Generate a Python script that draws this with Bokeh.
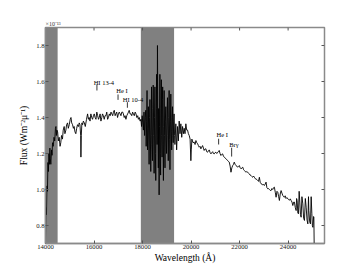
from bokeh.plotting import figure
from bokeh.models import Range1d, FixedTicker, BoxAnnotation, PrintfTickFormatter
from bokeh.core.properties import value
from bokeh.embed import file_html
from bokeh.resources import INLINE

# spectrum (wavelength in Angstrom, flux in 1e-13 W m^-2 micron^-1)
wavelength = [
    14000, 14020, 14040, 14060, 14080, 14100, 14120, 14140, 14160, 14180, 14200, 14220, 14250, 14270, 14290,
    14320, 14350, 14380, 14410, 14430, 14450, 14470, 14500, 14530, 14565, 14600, 14630, 14660, 14700, 14730,
    14770, 14800, 14840, 14870, 14910, 14940, 14980, 15020, 15050, 15080, 15115, 15150, 15180, 15215, 15250,
    15285, 15320, 15360, 15390, 15420, 15450, 15460, 15475, 15500, 15530, 15560, 15600, 15640, 15690, 15735,
    15770, 15800, 15835, 15870, 15905, 15940, 15975, 16010, 16045, 16080, 16115, 16150, 16185, 16215, 16250,
    16285, 16320, 16350, 16385, 16420, 16455, 16490, 16525, 16560, 16595, 16630, 16665, 16700, 16735, 16770,
    16800, 16835, 16870, 16900, 16935, 16970, 17005, 17040, 17075, 17110, 17145, 17180, 17210, 17245, 17280,
    17315, 17350, 17385, 17420, 17450, 17485, 17520, 17555, 17590, 17625, 17660, 17695, 17730, 17765, 17800,
    17830, 17865, 17900,
    17935, 17960, 17985, 18010, 18035, 18060, 18085, 18110, 18132, 18150, 18170, 18185, 18205, 18225, 18240,
    18270, 18290, 18305, 18339, 18355, 18370, 18390, 18408, 18425, 18440, 18460, 18477, 18495, 18510, 18530,
    18545, 18565, 18580, 18600, 18615, 18635, 18650, 18665, 18683, 18700, 18715, 18730, 18745, 18760, 18775,
    18790, 18805, 18818, 18830, 18845, 18860, 18875, 18890, 18910, 18925, 18940, 18959, 18975, 18990, 19010,
    19028, 19045, 19060, 19080, 19096, 19115, 19130, 19150, 19165, 19185, 19200, 19218, 19234, 19250, 19265,
    19285, 19300, 19320, 19335,
    19372, 19405, 19442, 19475, 19510, 19545, 19579, 19615, 19649, 19685, 19717, 19750, 19785,
    19820, 19855, 19890, 19924, 19960, 19992, 20010, 20033, 20080, 20130, 20165, 20200, 20235, 20270, 20300,
    20335, 20370, 20405, 20440, 20475, 20510, 20540, 20575, 20610, 20645, 20680, 20715, 20750, 20785, 20820,
    20855, 20890, 20920, 20955, 20990, 21025, 21060, 21095, 21130, 21160, 21195, 21230, 21265, 21300, 21335,
    21370, 21405, 21440, 21475, 21510, 21545, 21575, 21610, 21645, 21680, 21715, 21750, 21780, 21815, 21850,
    21885, 21920, 21955, 21990, 22025, 22060, 22100, 22130, 22165, 22196, 22230, 22265, 22300, 22335, 22370,
    22400, 22435, 22471, 22505, 22540, 22575, 22609, 22645, 22680, 22715, 22747, 22780, 22816, 22850, 22884,
    22920, 22955, 22990, 23021, 23055, 23091, 23125, 23160, 23195, 23230, 23265, 23298, 23330, 23365, 23400,
    23434, 23470, 23505, 23540, 23574, 23610, 23641, 23675, 23711, 23745, 23781, 23815, 23847, 23880, 23915,
    23950, 23988, 24020, 24055, 24090, 24124, 24160, 24194, 24230, 24260, 24295, 24331, 24350, 24372, 24400,
    24426, 24455, 24483, 24510, 24537, 24570, 24607, 24640, 24674, 24710, 24744, 24780, 24814, 24840, 24855,
    24890, 24921, 24950, 24979, 25000, 25021, 25050, 25062, 25074,
]
flux = [
    0.71, 0.90, 0.86, 1.02, 0.99, 1.15, 1.10, 1.20, 1.14, 1.23, 1.17, 1.14, 1.22, 1.19, 1.26,
    1.24, 1.29, 1.27, 1.34, 1.35, 1.30, 1.33, 1.32, 1.27, 1.29, 1.24, 1.26, 1.30, 1.28, 1.33,
    1.35, 1.31, 1.33, 1.36, 1.37, 1.34, 1.36, 1.39, 1.40, 1.37, 1.36, 1.34, 1.35, 1.32, 1.31,
    1.34, 1.36, 1.35, 1.37, 1.36, 1.30, 1.18, 1.30, 1.37, 1.36, 1.38, 1.37, 1.35, 1.39, 1.42,
    1.39, 1.40, 1.38, 1.42, 1.40, 1.39, 1.41, 1.42, 1.40, 1.39, 1.43, 1.41, 1.39, 1.40, 1.42,
    1.38, 1.40, 1.42, 1.41, 1.39, 1.41, 1.41, 1.43, 1.39, 1.40, 1.42, 1.41, 1.43, 1.42, 1.41,
    1.43, 1.44, 1.41, 1.42, 1.43, 1.40, 1.42, 1.43, 1.42, 1.41, 1.43, 1.43, 1.42, 1.40, 1.41,
    1.39, 1.41, 1.42, 1.43, 1.44, 1.42, 1.42, 1.41, 1.43, 1.42, 1.41, 1.43, 1.42, 1.40, 1.41,
    1.39, 1.40, 1.38,
    1.39, 1.35, 1.41, 1.37, 1.33, 1.43, 1.30, 1.40, 1.44, 1.24, 1.38, 1.55, 1.22, 1.34, 1.46,
    1.14, 1.40, 1.50, 1.10, 1.30, 1.57, 1.25, 1.16, 1.45, 1.58, 1.30, 1.09, 1.40, 1.57, 1.20,
    1.05, 1.45, 1.64, 1.25, 1.80, 1.30, 1.12, 1.45, 0.97, 1.35, 1.64, 1.20, 1.08, 1.45, 1.61,
    1.30, 1.18, 1.50, 1.57, 1.25, 1.05, 1.35, 1.55, 1.30, 1.12, 1.38, 1.46, 1.28, 1.20, 1.42,
    1.51, 1.30, 1.16, 1.40, 1.55, 1.28, 1.11, 1.38, 1.53, 1.32, 1.22, 1.40, 1.46, 1.30, 1.26,
    1.38, 1.42, 1.30, 1.25,
    1.365, 1.22, 1.35, 1.27, 1.38, 1.31, 1.365, 1.29, 1.35, 1.31, 1.34, 1.31, 1.365,
    1.33, 1.33, 1.31, 1.30, 1.28, 1.16, 1.22, 1.28, 1.26, 1.263, 1.25, 1.272, 1.26, 1.254, 1.245,
    1.235, 1.24, 1.226, 1.235, 1.244, 1.23, 1.217, 1.225, 1.226, 1.21, 1.207, 1.215, 1.22, 1.205, 1.198,
    1.205, 1.21, 1.20, 1.198, 1.205, 1.207, 1.20, 1.207, 1.21, 1.217, 1.20, 1.189, 1.195, 1.198, 1.185,
    1.18, 1.175, 1.17, 1.165, 1.161, 1.155, 1.152, 1.13, 1.096, 1.12, 1.133, 1.14, 1.152, 1.14, 1.133,
    1.13, 1.124, 1.128, 1.133, 1.12, 1.115, 1.12, 1.124, 1.11, 1.106, 1.10, 1.096, 1.10, 1.096, 1.09,
    1.087, 1.08, 1.078, 1.072, 1.068, 1.075, 1.068, 1.06, 1.058, 1.055, 1.05, 1.045, 1.068, 1.04, 1.032,
    1.03, 1.025, 1.028, 1.022, 1.03, 1.041, 1.01, 1.004, 1.005, 1.0, 0.995, 0.994, 1.005, 1.0, 1.01,
    1.013, 0.985, 0.957, 0.99, 0.985, 0.96, 0.939, 0.975, 0.994, 0.98, 0.967, 0.96, 0.957, 0.965, 0.95,
    0.955, 0.948, 0.945, 0.94, 0.948, 0.939, 0.93, 0.911, 0.93, 0.93, 0.90, 0.883, 0.95, 0.939, 0.87,
    0.865, 0.99, 0.93, 0.86, 0.846, 0.96, 0.92, 0.84, 0.828, 0.95, 0.902, 0.83, 0.809, 0.96, 0.883,
    0.82, 0.809, 0.96, 0.865, 0.80, 0.79, 0.85, 0.846, 0.70,
]

# masked (telluric) wavelength bands
band_start = [14000, 17930]
band_end = [14500, 19300]

# line identifications
line_names = ["HI 13-4", "He I", "HI 10-4", "He I", "Brγ"]
line_wave = [16120, 16990, 17375, 21136, 21673]
line_low = [1.550, 1.498, 1.454, 1.250, 1.183]
line_high = [1.583, 1.528, 1.485, 1.282, 1.232]
label_wave = [15985, 16920, 17185, 21050, 21575]
label_flux = [1.595, 1.550, 1.498, 1.304, 1.250]

x_ticks = [14000, 16000, 18000, 20000, 22000, 24000]
y_ticks = [0.8, 1.0, 1.2, 1.4, 1.6, 1.8]

X0, X1, Y0, Y1 = 14000, 25500, 0.7, 1.9
FONT = "Liberation Serif"
FRAME = "#8a8a8a"
TICK = "#555555"
FRAME_W, FRAME_H = 279, 216   # frame size in px (for mirrored tick length)
TL = 3                         # tick length px

p = figure(width=360, height=270, output_backend="svg", toolbar_location=None,
           x_range=Range1d(X0, X1), y_range=Range1d(Y0, Y1),
           min_border_left=45, min_border_right=36, min_border_top=27, min_border_bottom=27)
p.grid.visible = False
p.outline_line_color = FRAME
p.outline_line_width = 1.5
p.background_fill_color = "white"
p.border_fill_color = "white"

p.title.text = "×10⁻¹³"
p.title.text_font = FONT
p.title.text_font_size = "6px"
p.title.text_font_style = "normal"
p.title.text_color = "#333333"
p.title.align = "left"
p.title.standoff = 1
p.title.offset = 0

for s, e in zip(band_start, band_end):
    p.add_layout(BoxAnnotation(left=s, right=e, fill_color="#808080", fill_alpha=1.0,
                               line_color=None, level="underlay"))

p.line(wavelength, flux, line_color="black", line_width=0.9)

p.segment(x0=line_wave, y0=line_low, x1=line_wave, y1=line_high, line_color="black", line_width=0.8)
p.text(x=label_wave, y=label_flux, text=line_names, text_font=value(FONT), text_font_size="6.5px",
       text_color="black", text_baseline="alphabetic", text_align="left")

# mirrored ticks on top and right sides
dy = (Y1 - Y0) * TL / FRAME_H
dx = (X1 - X0) * TL / FRAME_W
p.segment(x0=x_ticks, y0=[Y1] * len(x_ticks), x1=x_ticks, y1=[Y1 - dy] * len(x_ticks),
          line_color=TICK, line_width=1)
p.segment(x0=[X1] * len(y_ticks), y0=y_ticks, x1=[X1 - dx] * len(y_ticks), y1=y_ticks,
          line_color=TICK, line_width=1)

for ax in [p.xaxis[0], p.yaxis[0]]:
    ax.major_tick_in = TL
    ax.major_tick_out = 0
    ax.minor_tick_line_color = None
    ax.axis_line_color = FRAME
    ax.axis_line_width = 1.5
    ax.major_tick_line_color = TICK
    ax.major_label_text_font = FONT
    ax.major_label_text_font_size = "6.7px"
    ax.major_label_text_color = "#222222"
    ax.axis_label_text_font = FONT
    ax.axis_label_text_font_style = "normal"
    ax.axis_label_text_font_size = "9.5px"
    ax.axis_label_text_color = "black"
    ax.major_label_standoff = 1

p.xaxis[0].ticker = FixedTicker(ticks=x_ticks)
p.yaxis[0].ticker = FixedTicker(ticks=y_ticks)
p.yaxis[0].formatter = PrintfTickFormatter(format="%.1f")
p.xaxis[0].axis_label = "Wavelength (Å)"
p.xaxis[0].axis_label_standoff = 1
p.yaxis[0].axis_label = "Flux (Wm⁻²μ⁻¹)"
p.yaxis[0].axis_label_standoff = 4
p.yaxis[0].major_label_orientation = "horizontal"

open("out.html", "w").write(file_html(p, INLINE))
